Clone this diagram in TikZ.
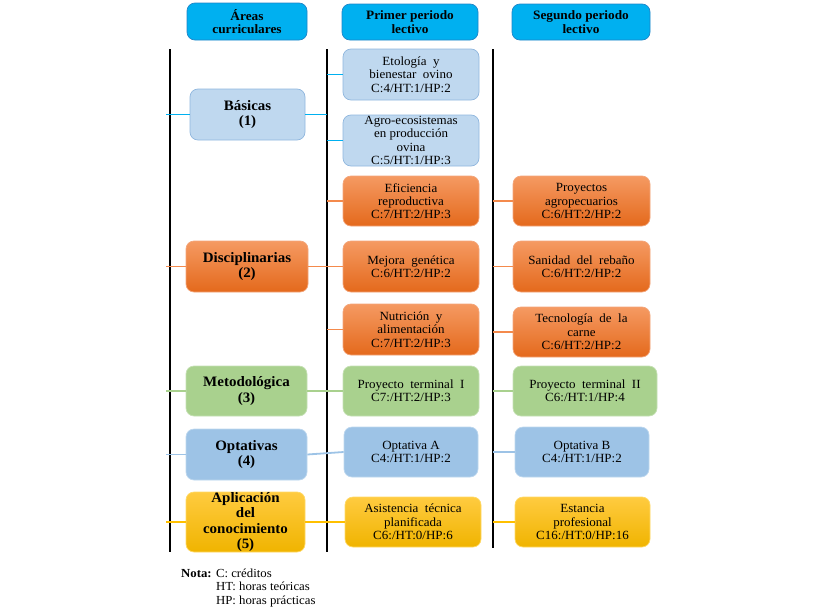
\documentclass[tikz,border=0pt]{standalone}
\usepackage{fontspec}
\setmainfont{Liberation Serif}[FakeStretch=1.04]
\definecolor{cHdr}{HTML}{00B0F0}
\definecolor{cHdrB}{HTML}{1F85C8}
\definecolor{cLb}{HTML}{BFD8EF}
\definecolor{cLbB}{HTML}{8FB6DE}
\definecolor{cOrT}{HTML}{F59A62}
\definecolor{cOrB}{HTML}{E4691C}
\definecolor{cOrD}{HTML}{F3A57A}
\definecolor{cGr}{HTML}{A9D18E}
\definecolor{cGrB}{HTML}{C5E0B4}
\definecolor{cOb}{HTML}{9DC3E6}
\definecolor{cObB}{HTML}{BDD7EE}
\definecolor{cYeT}{HTML}{FFCB40}
\definecolor{cYeB}{HTML}{F0B400}
\definecolor{cYeD}{HTML}{FFD966}
\definecolor{sCy}{HTML}{00B0F0}
\definecolor{sOr}{HTML}{F48A4C}
\definecolor{sGr}{HTML}{A9D18E}
\definecolor{sBl}{HTML}{9DC3E6}
\definecolor{sYe}{HTML}{FFC000}
\newcommand\mybody{\fontsize{12.5}{13.3}\selectfont}
\newcommand\myhdr{\bfseries\fontsize{12.8}{13.3}\selectfont}
\newcommand\myarea{\bfseries\fontsize{14.4}{15.7}\selectfont}
\newcommand\mynota{\fontsize{12.3}{13.6}\selectfont}
\begin{document}
\begin{tikzpicture}[x=1pt,y=-1pt,
  boxbase/.style={rounded corners=8pt, inner sep=0pt, align=center, font=\mybody, line width=0.7pt},
  hdrbox/.style={boxbase, fill=cHdr, draw=cHdrB, font=\myhdr},
  lbbox/.style={boxbase, fill=cLb, draw=cLbB},
  orbox/.style={boxbase, top color=cOrT, bottom color=cOrB, draw=cOrD},
  grbox/.style={boxbase, fill=cGr, draw=cGrB},
  obbox/.style={boxbase, fill=cOb, draw=cObB},
  yebox/.style={boxbase, top color=cYeT, bottom color=cYeB, draw=cYeD},
  areafont/.style={font=\myarea},
  vline/.style={draw=black, line width=2pt},
  stubcy/.style={draw=sCy, line width=1.8pt},
  stubor/.style={draw=sOr, line width=1.8pt},
  stubgr/.style={draw=sGr, line width=1.8pt},
  stubbl/.style={draw=sBl, line width=1.8pt},
  stubye/.style={draw=sYe, line width=1.8pt}
]
\useasboundingbox (0,0) rectangle (822,608);

% vertical lines
\coordinate (L1t) at (170,49); \coordinate (L1b) at (170,552);
\coordinate (L2t) at (327,49); \coordinate (L2b) at (327,552);
\coordinate (L3t) at (493,49); \coordinate (L3b) at (493,548);
\coordinate (L0) at (166,49);
\draw[vline] (L1t) -- (L1b);
\draw[vline] (L2t) -- (L2b);
\draw[vline] (L3t) -- (L3b);

% headers
\node[hdrbox, minimum width=120pt, minimum height=37pt] (h1) at (247,21.5) {Áreas\\curriculares};
\node[hdrbox, minimum width=136pt, minimum height=36pt] (h2) at (410,22) {Primer periodo\\lectivo};
\node[hdrbox, minimum width=138pt, minimum height=36pt] (h3) at (581,22) {Segundo periodo\\lectivo};

% column 1
\node[lbbox, areafont, minimum width=115pt, minimum height=51pt] (bas) at (247.5,114.5) {Básicas\\(1)};
\node[orbox, areafont, minimum width=122pt, minimum height=51pt] (dis) at (247,266.5) {Disciplinarias\\(2)};
\node[grbox, areafont, minimum width=121pt, minimum height=50pt] (met) at (246.5,391) {Metodológica\\(3)};
\node[obbox, areafont, minimum width=121pt, minimum height=51pt] (opt) at (246.5,454.5) {Optativas\\(4)};
\node[yebox, font=\bfseries\fontsize{14.4}{15.3}\selectfont, minimum width=119pt, minimum height=60pt] (apl) at (245.5,522) {Aplicación\\del\\conocimiento\\(5)};

% column 2
\node[lbbox, minimum width=136pt, minimum height=51pt] (c21) at (411,74.5) {Etología\ \ y\\bienestar\ \ ovino\\C:4/HT:1/HP:2};
\node[lbbox, minimum width=136pt, minimum height=51pt] (c22) at (411,140.5) {Agro-ecosistemas\\en producción\\ovina\\C:5/HT:1/HP:3};
\node[orbox, minimum width=136pt, minimum height=50pt] (c23) at (411,201) {Eficiencia\\reproductiva\\C:7/HT:2/HP:3};
\node[orbox, minimum width=136pt, minimum height=51pt] (c24) at (411,266.5) {Mejora\ \ genética\\C:6/HT:2/HP:2};
\node[orbox, minimum width=136pt, minimum height=51pt] (c25) at (411,329.5) {Nutrición\ \ y\\alimentación\\C:7/HT:2/HP:3};
\node[grbox, minimum width=136pt, minimum height=50pt] (c26) at (411,391) {Proyecto\ \ terminal\ \ I\\C7:/HT:2/HP:3};
\node[obbox, minimum width=134pt, minimum height=50pt] (c27) at (411,452) {Optativa A\\C4:/HT:1/HP:2};
\node[yebox, minimum width=136pt, minimum height=50pt] (c28) at (413,522) {Asistencia\ \ técnica\\planificada\\C6:/HT:0/HP:6};

% column 3
\node[orbox, minimum width=137pt, minimum height=50pt] (c31) at (581.5,201) {Proyectos\\agropecuarios\\C:6/HT:2/HP:2};
\node[orbox, minimum width=137pt, minimum height=51pt] (c32) at (581.5,266.5) {Sanidad\ \ del\ \ rebaño\\C:6/HT:2/HP:2};
\node[orbox, minimum width=137pt, minimum height=50pt] (c33) at (581.5,332) {Tecnología\ \ de\ \ la\\carne\\C:6/HT:2/HP:2};
\node[grbox, minimum width=144pt, minimum height=50pt] (c34) at (585,391) {Proyecto\ \ terminal\ \ II\\C6:/HT:1/HP:4};
\node[obbox, minimum width=134pt, minimum height=50pt] (c35) at (582,452) {Optativa B\\C4:/HT:1/HP:2};
\node[yebox, minimum width=135pt, minimum height=50pt] (c36) at (582.5,522) {Estancia\\profesional\\C16:/HT:0/HP:16};

% left stubs
\draw[stubcy] (L0 |- bas.west) -- (bas.west);
\draw[stubor] (L0 |- dis.west) -- (dis.west);
\draw[stubgr] (L0 |- met.west) -- (met.west);
\draw[stubbl] (L0 |- opt.west) -- (opt.west);
\draw[stubye] (L0 |- apl.west) -- (apl.west);

% column 1 to column 2
\draw[stubcy] (bas.east) -- (L2t |- bas.east);
\draw[stubor] (dis.east) -- (c24.west);
\draw[stubgr] (met.east) -- (c26.west);
\draw[stubbl] (opt.east) -- (c27.west);
\draw[stubye] (apl.east) -- (c28.west);

% middle line stubs
\draw[stubcy] (L2t |- c21.west) -- (c21.west);
\draw[stubcy] (L2t |- c22.west) -- (c22.west);
\draw[stubor] (L2t |- c23.west) -- (c23.west);
\draw[stubor] (L2t |- c25.west) -- (c25.west);

% right line stubs
\draw[stubor] (L3t |- c31.west) -- (c31.west);
\draw[stubor] (L3t |- c32.west) -- (c32.west);
\draw[stubor] (L3t |- c33.west) -- (c33.west);
\draw[stubgr] (L3t |- c34.west) -- (c34.west);
\draw[stubbl] (L3t |- c35.west) -- (c35.west);
\draw[stubye] (L3t |- c36.west) -- (c36.west);

% note
\node[anchor=north west, inner sep=0pt, font=\mynota] (nota) at (181,567.5)
  {\begin{tabular}{@{}l@{ }l@{}}\textbf{Nota:} & C: créditos\\ & HT: horas teóricas\\ & HP: horas prácticas\end{tabular}};
\end{tikzpicture}
\end{document}
